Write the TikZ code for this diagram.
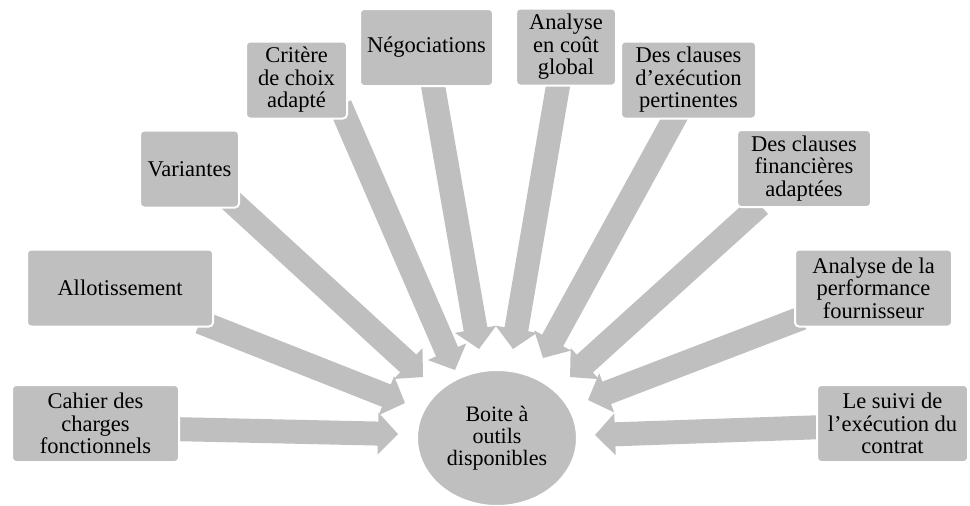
\documentclass[tikz,border=0pt]{standalone}
\usepackage{fontspec}
\setmainfont{Liberation Serif}
\usetikzlibrary{calc,backgrounds,shapes.geometric}
\definecolor{boxgray}{RGB}{191,191,191}
\tikzset{
  tool/.style={rectangle, rounded corners=4pt, fill=boxgray, draw=white,
    line width=2pt, align=center, inner sep=0pt, text=black,
    minimum height=77pt, font=\fontsize{22.5}{22.5}\selectfont},
  hub/.style={ellipse, fill=boxgray, draw=white, line width=2pt,
    minimum width=160pt, minimum height=136pt, inner sep=0pt,
    align=center, text=black, font=\fontsize{22}{22}\selectfont},
  blockarrow/.style={fill=boxgray}
}
% #1 tail coordinate, #2 tip coordinate
\newcommand\toolarrow[2]{%
  \coordinate (M) at ($(#2)!20pt!(#1)$);
  \fill[blockarrow] ($(#1)!12pt!90:(#2)$) -- ($(M)!12pt!90:(#2)$)
    -- ($(M)!21pt!90:(#2)$) -- (#2) -- ($(M)!21pt!-90:(#2)$)
    -- ($(M)!12pt!-90:(#2)$) -- ($(#1)!12pt!-90:(#2)$) -- cycle;
}
\begin{document}
\begin{tikzpicture}[x=1pt,y=-1pt]
\useasboundingbox (0,0) rectangle (970,506);

\node[hub] (hub) at (497,438) {Boite à\\outils\\disponibles};

\node[tool, minimum width=167pt] (c1) at (95.5,423.5) {Cahier des\\charges\\fonctionnels};
\node[tool, minimum width=186pt] (c2) at (120,288) {Allotissement};
\node[tool, minimum width=99pt] (c3) at (189.5,169) {Variantes};
\node[tool, minimum width=101pt] (c4) at (296.5,80) {Critère\\de choix\\adapté};
\node[tool, minimum width=133pt] (c5) at (426.5,47.5) {Négociations};
\node[tool, minimum width=100pt] (c6) at (566,47) {Analyse\\en coût\\global};
\node[tool, minimum width=135pt] (c7) at (688.5,80) {Des clauses\\d'exécution\\pertinentes};
\node[tool, minimum width=134pt] (c8) at (804,168.5) {Des clauses\\financières\\adaptées};
\node[tool, minimum width=157pt] (c9) at (873.5,288) {Analyse de la\\performance\\fournisseur};
\node[tool, minimum width=151pt] (c10) at (892.5,423.5) {Le suivi de\\l'exécution du\\contrat};

% arrow tails (under the boxes) and tips (near the hub)
\coordinate (t1) at (170,429);  \coordinate (h1) at (398,434);
\coordinate (t2) at (200,322);  \coordinate (h2) at (405,403);
\coordinate (t3) at (228,198);  \coordinate (h3) at (423,377);
\coordinate (t4) at (340,105);  \coordinate (h4) at (455,370);
\coordinate (t5) at (432,80);   \coordinate (h5) at (479,349);
\coordinate (t6) at (559,80);   \coordinate (h6) at (513,349);
\coordinate (t7) at (678,112);  \coordinate (h7) at (543,358);
\coordinate (t8) at (760,205);  \coordinate (h8) at (570,377);
\coordinate (t9) at (802,318);  \coordinate (h9) at (588,400);
\coordinate (t10) at (825,427); \coordinate (h10) at (595,435);

\begin{scope}[on background layer]
  \fill[white] (0,0) rectangle (970,506);
  \toolarrow{t1}{h1}
  \toolarrow{t2}{h2}
  \toolarrow{t3}{h3}
  \toolarrow{t4}{h4}
  \toolarrow{t5}{h5}
  \toolarrow{t6}{h6}
  \toolarrow{t7}{h7}
  \toolarrow{t8}{h8}
  \toolarrow{t9}{h9}
  \toolarrow{t10}{h10}
\end{scope}
\end{tikzpicture}
\end{document}
